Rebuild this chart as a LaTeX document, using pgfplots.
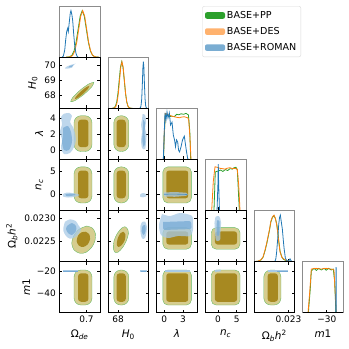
\documentclass[border=0pt]{standalone}
\usepackage{fontspec}
\setmainfont{DejaVu Sans}[ItalicFont={DejaVu Sans Oblique}]
\usepackage{pgfplots}
\pgfplotsset{compat=1.18}

\definecolor{cg}{HTML}{2CA02C}
\definecolor{co}{HTML}{FF7F0E}
\definecolor{cb}{HTML}{1F77B4}
\definecolor{khaki}{RGB}{214,205,143}
\definecolor{olive}{RGB}{167,137,33}
\definecolor{lblue}{RGB}{168,202,230}
\definecolor{mblue}{RGB}{118,170,213}
\definecolor{legg}{RGB}{44,160,44}
\definecolor{lego}{RGB}{255,178,110}
\definecolor{legb}{RGB}{122,173,210}

\pgfplotsset{
  panel/.style={scale only axis, width=40.7bp, height=51.12bp, anchor=north west,
    axis line style={black, line width=0.7pt}, tick style={black, line width=0.6pt},
    major tick length=3bp, tick align=inside, scaled ticks=false,
    xticklabel=\empty, yticklabel=\empty,
    ticklabel style={font=\fontsize{9}{10}\selectfont},
    label style={font=\fontsize{10.5}{12}\selectfont}},
  diag/.style={panel, ymin=0, ymax=1.1, ytick=\empty, xtick pos=left,
    axis line style={black!45, line width=0.7pt},
    extra description/.code={\draw[black, line width=0.7pt] (rel axis cs:0,0) -- (rel axis cs:1,0);}},
  pox/.style={xmin=0.66, xmax=0.72, xtick={0.7}},
  phx/.style={xmin=67.16, xmax=70.56, xtick={68}},
  phy/.style={ymin=67.16, ymax=70.56, ytick={68,69,70}},
  plx/.style={xmin=-1.2, xmax=5.3, xtick={0,3}},
  ply/.style={ymin=-1.2, ymax=5.3, ytick={0,2,4}},
  pnx/.style={xmin=-3.4, xmax=7.5, xtick={0,5}},
  pny/.style={ymin=-3.4, ymax=7.5, ytick={0,5}},
  pbx/.style={xmin=0.022075, xmax=0.023167, xtick={0.023}},
  pby/.style={ymin=0.022075, ymax=0.023167, ytick={0.0225,0.0230}},
  pmx/.style={xmin=-58.5, xmax=-10.5, xtick={-30}},
  pmy/.style={ymin=-58.5, ymax=-10.5, ytick={-40,-20}},
  c95/.style={fill=khaki, draw=cg!75, line width=0.35pt},
  c68/.style={fill=olive, draw=none},
  b95/.style={fill=lblue, draw=none, fill opacity=0.75},
  b68/.style={fill=mblue, draw=none, fill opacity=0.75},
  lg/.style={cg, line width=0.8pt},
  lo/.style={co, line width=0.8pt},
  lb/.style={cb, line width=0.8pt},
}

\begin{document}
\begin{tikzpicture}
\useasboundingbox (0bp,0bp) rectangle (349bp,-349bp);

% ---------- legend ----------
\begin{axis}[at={(202.3bp,-6bp)}, anchor=north west, hide axis, scale only axis,
  width=99bp, height=43bp, xmin=0, xmax=1, ymin=0, ymax=1,
  legend cell align=left,
  legend style={at={(0,1)}, anchor=north west, draw=black!15, fill=white,
    rounded corners=2bp, font=\fontsize{9.6}{10.5}\selectfont,
    inner xsep=2.5bp, inner ysep=3bp, row sep=3.5bp},
  legend image code/.code={\fill[#1, draw=none] (0bp,-3.3bp) rectangle (20bp,3.3bp);}]
\addlegendimage{fill=legg, draw=none}
\addlegendentry{BASE+PP}
\addlegendimage{fill=lego, draw=none}
\addlegendentry{BASE+DES}
\addlegendimage{fill=legb, draw=none}
\addlegendentry{BASE+ROMAN}
\end{axis}

% ---------- row 1 ----------
\begin{axis}[diag, pox, at={(59.3bp,-6bp)}]
\addplot[lg] coordinates {(0.6700,0) (0.6728,0.002) (0.6758,0.011) (0.6788,0.044) (0.6818,0.135) (0.6848,0.325) (0.6878,0.607) (0.6908,0.883) (0.6938,1.0) (0.6968,0.883) (0.6998,0.607) (0.7028,0.325) (0.7058,0.135) (0.7088,0.044) (0.7118,0.011) (0.7148,0.002) (0.7180,0)};
\addplot[lo] coordinates {(0.6710,0) (0.6742,0.002) (0.6771,0.011) (0.6800,0.044) (0.6829,0.135) (0.6858,0.325) (0.6887,0.607) (0.6916,0.883) (0.6945,1.0) (0.6974,0.883) (0.7003,0.607) (0.7032,0.325) (0.7061,0.135) (0.7090,0.044) (0.7119,0.011) (0.7148,0.002) (0.7180,0)};
\addplot[lb] coordinates {(0.6640,0) (0.6659,0.02) (0.6680,0.15) (0.6694,0.37) (0.6709,0.55) (0.6724,0.62) (0.6733,0.55) (0.6747,0.75) (0.6762,0.95) (0.6772,1.0) (0.6787,0.9) (0.6798,0.78) (0.6812,0.5) (0.6827,0.25) (0.6846,0.08) (0.6865,0.01) (0.6880,0)};
\end{axis}

% ---------- row 2 ----------
\begin{axis}[panel, pox, phy, at={(59.3bp,-57.12bp)}, yticklabels={68,69,70},
  ylabel={\textit{H}\textsubscript{0}}]
\addplot[c95, smooth] coordinates {(0.7111,68.885) (0.7080,68.595) (0.6966,68.097) (0.6837,67.683) (0.6768,67.595) (0.6800,67.885) (0.6913,68.383) (0.7042,68.797) (0.7111,68.885)};
\addplot[c68, smooth] coordinates {(0.7042,68.640) (0.7023,68.457) (0.6953,68.128) (0.6873,67.845) (0.6831,67.774) (0.6851,67.957) (0.6921,68.286) (0.7000,68.569) (0.7042,68.640)};
\addplot[b95, smooth] coordinates {(0.6829,70.102) (0.6805,69.993) (0.6789,69.864) (0.6718,69.790) (0.6684,69.816) (0.6708,69.926) (0.6775,70.055) (0.6846,70.128) (0.6829,70.102)};
\addplot[b68, smooth] coordinates {(0.6806,70.031) (0.6794,69.976) (0.6786,69.912) (0.6750,69.875) (0.6733,69.888) (0.6745,69.943) (0.6779,70.007) (0.6814,70.044) (0.6806,70.031)};
\end{axis}
\begin{axis}[diag, phx, at={(107.96bp,-57.12bp)}]
\addplot[lg] coordinates {(67.50,0) (67.575,0.002) (67.68,0.011) (67.785,0.044) (67.89,0.135) (67.995,0.325) (68.10,0.607) (68.205,0.883) (68.31,1.0) (68.415,0.883) (68.52,0.607) (68.625,0.325) (68.73,0.135) (68.835,0.044) (68.94,0.011) (69.045,0.002) (69.20,0)};
\addplot[lo] coordinates {(67.50,0) (67.63,0.002) (67.73,0.011) (67.83,0.044) (67.93,0.135) (68.03,0.325) (68.13,0.607) (68.23,0.883) (68.33,1.0) (68.43,0.883) (68.53,0.607) (68.63,0.325) (68.73,0.135) (68.83,0.044) (68.93,0.011) (69.03,0.002) (69.20,0)};
\addplot[lb] coordinates {(69.80,0) (69.87,0.01) (69.92,0.05) (69.98,0.2) (70.03,0.5) (70.08,0.88) (70.12,1.0) (70.16,0.88) (70.21,0.5) (70.26,0.2) (70.31,0.05) (70.36,0.01) (70.42,0)};
\end{axis}

% ---------- row 3 ----------
\begin{axis}[panel, pox, ply, at={(59.3bp,-108.24bp)}, yticklabels={0,2,4},
  ylabel={\textit{λ}}]
\addplot[c95, rounded corners=7bp] coordinates {(0.6950,-0.2) (0.7082,-0.2) (0.7082,4.35) (0.6817,4.35) (0.6817,-0.2) (0.6950,-0.2)};
\addplot[c68, rounded corners=3bp] coordinates {(0.6953,0.35) (0.7030,0.35) (0.7030,3.85) (0.6876,3.85) (0.6876,0.35) (0.6953,0.35)};
\addplot[b95, smooth] coordinates {(0.6669,4.60) (0.6743,4.70) (0.6787,4.312) (0.6758,3.549) (0.6802,2.913) (0.6831,2.150) (0.6846,1.260) (0.6817,0.370) (0.6758,-0.393) (0.6669,-0.520) (0.6625,0.243) (0.6640,1.260) (0.6610,2.278) (0.6640,3.295) (0.6625,4.185) (0.6669,4.60)};
\addplot[b68, smooth] coordinates {(0.6655,2.786) (0.6728,3.041) (0.6772,2.278) (0.6787,1.006) (0.6743,-0.011) (0.6669,-0.011) (0.6640,1.006) (0.6655,1.896) (0.6655,2.786)};
\end{axis}
\begin{axis}[panel, phx, ply, at={(107.96bp,-108.24bp)}]
\addplot[c95, rounded corners=7bp] coordinates {(68.275,-0.2) (68.90,-0.2) (68.90,4.35) (67.65,4.35) (67.65,-0.2) (68.275,-0.2)};
\addplot[c68, rounded corners=3bp] coordinates {(68.265,0.35) (68.65,0.35) (68.65,3.85) (67.88,3.85) (67.88,0.35) (68.265,0.35)};
\addplot[b95, smooth] coordinates {(70.050,4.566) (70.259,4.439) (70.343,3.549) (70.259,2.786) (70.385,1.896) (70.343,1.006) (70.259,0.116) (70.009,0.243) (69.925,1.260) (70.009,2.278) (69.925,3.168) (70.009,3.931) (70.050,4.566)};
\addplot[b68, smooth] coordinates {(70.10,3.8) (70.25,3.5) (70.22,2.0) (70.28,1.0) (70.15,0.4) (70.03,1.2) (70.08,2.5) (70.10,3.8)};
\end{axis}
\begin{axis}[diag, plx, at={(156.62bp,-108.24bp)}]
\addplot[lg] coordinates {(-0.10,0) (0.02,0.5) (0.19,0.97) (0.5,0.95) (0.83,0.918) (1.2,0.93) (1.63,0.918) (2.0,0.97) (2.35,0.96) (2.7,0.98) (3.1,0.97) (3.5,0.99) (3.88,0.956) (4.1,0.6) (4.24,0)};
\addplot[lo] coordinates {(-0.12,0) (0.0,0.5) (0.19,0.99) (0.5,0.97) (0.83,0.956) (1.2,0.93) (1.63,0.918) (2.0,0.905) (2.43,0.896) (2.8,0.91) (3.22,0.918) (3.5,0.905) (3.77,0.896) (3.93,0.847) (4.13,0.453) (4.29,0)};
\addplot[lb] coordinates {(-0.13,0) (0.03,0.63) (0.14,1.0) (0.30,0.85) (0.46,1.02) (0.62,0.89) (0.83,1.0) (1.02,0.74) (1.26,0.80) (1.47,0.52) (1.66,0.42) (1.82,0.27) (1.98,0.42) (2.17,0.37) (2.30,0.20) (2.46,0.16) (2.70,0.27) (2.94,0.42) (3.22,0.50) (3.42,0.31) (3.58,0.16) (3.77,0.01) (3.90,0)};
\end{axis}

% ---------- row 4 ----------
\begin{axis}[panel, pox, pny, at={(59.3bp,-159.36bp)}, yticklabels={0,5},
  ylabel={\textit{n}\textsubscript{\itshape c}}]
\addplot[c95, rounded corners=7bp] coordinates {(0.6950,-1.8) (0.7082,-1.8) (0.7082,5.9) (0.6817,5.9) (0.6817,-1.8) (0.6950,-1.8)};
\addplot[c68, rounded corners=3bp] coordinates {(0.6953,-0.8) (0.7030,-0.8) (0.7030,5.1) (0.6876,5.1) (0.6876,-0.8) (0.6953,-0.8)};
\addplot[b95, smooth] coordinates {(0.6655,0.112) (0.6713,0.432) (0.6787,0.325) (0.6876,0.112) (0.6890,-0.208) (0.6817,-0.528) (0.6728,-0.634) (0.6655,-0.421) (0.6655,0.112)};
\addplot[b68, smooth] coordinates {(0.6690,0.05) (0.6760,0.2) (0.6840,0.0) (0.6780,-0.3) (0.6700,-0.3) (0.6690,0.05)};
\end{axis}
\begin{axis}[panel, phx, pny, at={(107.96bp,-159.36bp)}]
\addplot[c95, rounded corners=7bp] coordinates {(68.275,-1.8) (68.90,-1.8) (68.90,5.9) (67.65,5.9) (67.65,-1.8) (68.275,-1.8)};
\addplot[c68, rounded corners=3bp] coordinates {(68.265,-0.8) (68.65,-0.8) (68.65,5.1) (67.88,5.1) (67.88,-0.8) (68.265,-0.8)};
\addplot[b95, smooth] coordinates {(69.883,0.112) (70.092,0.325) (70.343,0.112) (70.385,-0.314) (70.092,-0.591) (69.842,-0.421) (69.883,0.112)};
\end{axis}
\begin{axis}[panel, plx, pny, at={(156.62bp,-159.36bp)}]
\addplot[c95, rounded corners=5bp] coordinates {(2.075,-1.8) (4.35,-1.8) (4.35,5.9) (-0.2,5.9) (-0.2,-1.8) (2.075,-1.8)};
\addplot[c68, rounded corners=2.5bp] coordinates {(2.1,-0.8) (3.85,-0.8) (3.85,5.1) (0.35,5.1) (0.35,-0.8) (2.1,-0.8)};
\addplot[b95, rounded corners=1.5bp] coordinates {(-0.098,0.432) (1.738,0.538) (3.734,0.368) (3.814,-0.208) (1.898,-0.485) (-0.098,-0.421) (-0.098,0.432)};
\addplot[cb!80, line width=0.6pt] coordinates {(-0.05,0.05) (1.5,0.1) (3.7,0.0)};
\end{axis}
\begin{axis}[diag, pnx, at={(205.28bp,-159.36bp)}]
\addplot[lg] coordinates {(-1.07,0) (-0.72,0.83) (0.09,0.85) (0.73,0.87) (1.3,0.84) (2.0,0.88) (2.6,0.86) (3.22,0.90) (3.9,0.89) (4.3,0.92) (4.83,0.93) (5.18,0.87) (5.72,0)};
\addplot[lo] coordinates {(-1.68,0) (-1.26,0.62) (-0.80,0.94) (-0.2,0.93) (0.54,0.907) (1.2,0.9) (1.88,0.89) (2.5,0.91) (3.22,0.92) (3.9,0.9) (4.56,0.907) (5.18,0.89) (5.55,0.55) (5.90,0)};
\addplot[lb] coordinates {(-0.25,0) (0.0,0.6) (0.08,1.0) (0.18,0.6) (0.4,0)};
\end{axis}

% ---------- row 5 ----------
\begin{axis}[panel, pox, pby, at={(59.3bp,-210.48bp)}, yticklabels={0.0225,0.0230},
  ylabel={Ω\textsubscript{\itshape b}\textit{h}\textsuperscript{2}}]
\addplot[c95, smooth] coordinates {(0.7004,0.022835) (0.7086,0.022793) (0.7131,0.022679) (0.7126,0.022521) (0.7078,0.022380) (0.6994,0.022273) (0.6905,0.022252) (0.6817,0.022323) (0.6783,0.022466) (0.6812,0.022622) (0.6890,0.022765) (0.7004,0.022835)};
\addplot[c68, smooth] coordinates {(0.6989,0.022713) (0.7042,0.022658) (0.7053,0.022551) (0.7019,0.022444) (0.6954,0.022387) (0.6890,0.022414) (0.6856,0.022515) (0.6880,0.022637) (0.6930,0.022701) (0.6989,0.022713)};
\addplot[b95, smooth] coordinates {(0.6684,0.022927) (0.6758,0.022978) (0.6842,0.022942) (0.6880,0.022857) (0.6920,0.022765) (0.6890,0.022679) (0.6831,0.022594) (0.6758,0.022564) (0.6699,0.022622) (0.6659,0.022735) (0.6669,0.022857) (0.6684,0.022927)};
\addplot[b68, smooth] coordinates {(0.6714,0.022835) (0.6787,0.022899) (0.6846,0.022835) (0.6846,0.022728) (0.6787,0.022643) (0.6728,0.022686) (0.6699,0.022771) (0.6714,0.022835)};
\end{axis}
\begin{axis}[panel, phx, pby, at={(107.96bp,-210.48bp)}]
\addplot[c95, smooth] coordinates {(68.589,0.022820) (68.814,0.022765) (68.864,0.022664) (68.697,0.022521) (68.396,0.022380) (68.029,0.022280) (67.753,0.022273) (67.611,0.022359) (67.670,0.022521) (67.945,0.022679) (68.313,0.022793) (68.589,0.022820)};
\addplot[c68, smooth] coordinates {(68.447,0.022713) (68.614,0.022658) (68.563,0.022536) (68.313,0.022429) (68.029,0.022387) (67.895,0.022444) (67.979,0.022573) (68.196,0.022679) (68.447,0.022713)};
\addplot[b95, smooth] coordinates {(70.009,0.022921) (70.259,0.022931) (70.401,0.022835) (70.385,0.022707) (70.259,0.022579) (70.009,0.022568) (69.883,0.022686) (69.867,0.022835) (70.009,0.022921)};
\addplot[b68, smooth] coordinates {(70.050,0.022835) (70.259,0.022857) (70.301,0.022728) (70.134,0.022643) (69.967,0.022728) (70.050,0.022835)};
\end{axis}
\begin{axis}[panel, plx, pby, at={(156.62bp,-210.48bp)}]
\addplot[c95, rounded corners=5bp] coordinates {(2.075,0.02234) (4.35,0.02234) (4.35,0.02280) (-0.2,0.02280) (-0.2,0.02234) (2.075,0.02234)};
\addplot[c68, rounded corners=2.5bp] coordinates {(2.1,0.02244) (3.85,0.02244) (3.85,0.02272) (0.35,0.02272) (0.35,0.02244) (2.1,0.02244)};
\addplot[b95, smooth] coordinates {(-0.338,0.023092) (0.940,0.023049) (2.531,0.023113) (4.134,0.023071) (4.600,0.023007) (4.600,0.022750) (4.134,0.022622) (2.212,0.022622) (0.620,0.022579) (-0.497,0.022643) (-0.817,0.022857) (-0.338,0.023092)};
\addplot[b68, rounded corners=2bp] coordinates {(-0.178,0.022921) (4.300,0.022942) (4.400,0.022771) (-0.178,0.022750) (-0.178,0.022921)};
\end{axis}
\begin{axis}[panel, pnx, pby, at={(205.28bp,-210.48bp)}]
\addplot[c95, rounded corners=5bp] coordinates {(2.05,0.02234) (5.9,0.02234) (5.9,0.02280) (-1.8,0.02280) (-1.8,0.02234) (2.05,0.02234)};
\addplot[c68, rounded corners=2.5bp] coordinates {(2.15,0.02244) (5.1,0.02244) (5.1,0.02272) (-0.8,0.02272) (-0.8,0.02244) (2.15,0.02244)};
\addplot[b95, smooth] coordinates {(-0.665,0.023028) (0.273,0.023049) (0.809,0.022921) (0.675,0.022707) (0.541,0.022536) (-0.531,0.022526) (-0.799,0.022707) (-0.933,0.022899) (-0.665,0.023028)};
\addplot[b68, smooth] coordinates {(-0.3,0.022950) (0.4,0.022940) (0.35,0.022650) (-0.35,0.022650) (-0.3,0.022950)};
\end{axis}
\begin{axis}[diag, pbx, at={(253.94bp,-210.48bp)}]
\addplot[lg] coordinates {(0.022100,0) (0.022190,0.01) (0.022270,0.04) (0.022322,0.10) (0.022375,0.24) (0.022420,0.39) (0.022463,0.56) (0.022500,0.71) (0.022528,0.85) (0.022571,0.95) (0.022612,0.99) (0.022650,0.93) (0.022688,0.80) (0.022716,0.63) (0.022742,0.44) (0.022777,0.22) (0.022823,0.10) (0.022866,0.05) (0.022940,0.02) (0.023020,0.01) (0.023080,0)};
\addplot[lo] coordinates {(0.022100,0) (0.022185,0.01) (0.022266,0.04) (0.022319,0.10) (0.022373,0.25) (0.022418,0.40) (0.022461,0.57) (0.022499,0.72) (0.022526,0.86) (0.022569,0.96) (0.022614,1.0) (0.022649,0.93) (0.022687,0.79) (0.022714,0.62) (0.022740,0.43) (0.022775,0.21) (0.022821,0.10) (0.022864,0.06) (0.022936,0.03) (0.023017,0.01) (0.023080,0)};
\addplot[lb] coordinates {(0.022633,0) (0.022660,0.05) (0.022681,0.18) (0.022714,0.5) (0.022740,0.8) (0.022762,0.95) (0.022783,1.0) (0.022810,0.85) (0.022837,0.7) (0.022864,0.45) (0.022883,0.29) (0.022917,0.08) (0.022955,0.02) (0.022990,0.01) (0.023017,0.03) (0.023044,0.06) (0.023070,0.02) (0.023097,0)};
\end{axis}

% ---------- row 6 ----------
\begin{axis}[panel, pox, pmy, at={(59.3bp,-261.6bp)}, yticklabels={−40,−20}, xticklabels={0.7},
  ylabel={\textit{m}1}, xlabel={Ω\textsubscript{\itshape de}}]
\addplot[c95, rounded corners=7bp] coordinates {(0.6950,-51.3) (0.7082,-51.3) (0.7082,-18.4) (0.6817,-18.4) (0.6817,-51.3) (0.6950,-51.3)};
\addplot[c68, rounded corners=3bp] coordinates {(0.6953,-48.2) (0.7030,-48.2) (0.7030,-21.5) (0.6876,-21.5) (0.6876,-48.2) (0.6953,-48.2)};
\addplot[lblue, line width=2pt] coordinates {(0.6655,-19.6) (0.6880,-19.6)};
\addplot[mblue, line width=0.7pt] coordinates {(0.6660,-19.6) (0.6870,-19.6)};
\end{axis}
\begin{axis}[panel, phx, pmy, at={(107.96bp,-261.6bp)}, xticklabels={68},
  xlabel={\textit{H}\textsubscript{0}}]
\addplot[c95, rounded corners=7bp] coordinates {(68.275,-51.3) (68.90,-51.3) (68.90,-18.4) (67.65,-18.4) (67.65,-51.3) (68.275,-51.3)};
\addplot[c68, rounded corners=3bp] coordinates {(68.265,-48.2) (68.65,-48.2) (68.65,-21.5) (67.88,-21.5) (67.88,-48.2) (68.265,-48.2)};
\addplot[lblue, line width=2pt] coordinates {(69.85,-19.6) (70.40,-19.6)};
\addplot[mblue, line width=0.7pt] coordinates {(69.90,-19.6) (70.35,-19.6)};
\end{axis}
\begin{axis}[panel, plx, pmy, at={(156.62bp,-261.6bp)}, xticklabels={0,3},
  xlabel={\textit{λ}}]
\addplot[c95, rounded corners=5bp] coordinates {(2.075,-51.3) (4.35,-51.3) (4.35,-18.4) (-0.2,-18.4) (-0.2,-51.3) (2.075,-51.3)};
\addplot[c68, rounded corners=2.5bp] coordinates {(2.1,-48.2) (3.85,-48.2) (3.85,-21.5) (0.35,-21.5) (0.35,-48.2) (2.1,-48.2)};
\addplot[lblue, line width=1.8pt] coordinates {(0.14,-19.0) (4.13,-19.0)};
\end{axis}
\begin{axis}[panel, pnx, pmy, at={(205.28bp,-261.6bp)}, xticklabels={0,5},
  xlabel={\textit{n}\textsubscript{\itshape c}}]
\addplot[c95, rounded corners=5bp] coordinates {(2.05,-51.3) (5.9,-51.3) (5.9,-18.4) (-1.8,-18.4) (-1.8,-51.3) (2.05,-51.3)};
\addplot[c68, rounded corners=2.5bp] coordinates {(2.15,-48.2) (5.1,-48.2) (5.1,-21.5) (-0.8,-21.5) (-0.8,-48.2) (2.15,-48.2)};
\addplot[lblue, line width=1.8pt] coordinates {(-0.8,-19.3) (0.74,-18.8)};
\end{axis}
\begin{axis}[panel, pbx, pmy, at={(253.94bp,-261.6bp)}, xticklabels={0.023},
  xlabel={Ω\textsubscript{\itshape b}\textit{h}\textsuperscript{2}}]
\addplot[c95, rounded corners=7bp] coordinates {(0.02257,-51.3) (0.02280,-51.3) (0.02280,-18.4) (0.02234,-18.4) (0.02234,-51.3) (0.02257,-51.3)};
\addplot[c68, rounded corners=3bp] coordinates {(0.02258,-48.2) (0.02272,-48.2) (0.02272,-21.5) (0.02244,-21.5) (0.02244,-48.2) (0.02258,-48.2)};
\addplot[lblue, line width=1.4pt] coordinates {(0.02246,-19.3) (0.02300,-19.3)};
\addplot[mblue, line width=0.8pt] coordinates {(0.02270,-19.3) (0.02300,-19.3)};
\end{axis}
\begin{axis}[diag, pmx, at={(302.6bp,-261.6bp)}, xticklabels={−30},
  xlabel={\textit{m}1}]
\addplot[lg] coordinates {(-51.7,0) (-49.5,0.5) (-48.2,0.90) (-45,0.955) (-42.3,0.91) (-39.5,0.955) (-36.4,0.92) (-33.2,0.955) (-30.6,0.915) (-27.8,0.955) (-24.7,0.92) (-22.3,0.94) (-20.7,0.67) (-19.2,0)};
\addplot[lo] coordinates {(-52.1,0) (-50.1,0.45) (-48.2,0.94) (-45.2,0.95) (-42.3,0.955) (-39.3,0.945) (-36.4,0.94) (-33.5,0.95) (-30.6,0.955) (-27.6,0.945) (-24.7,0.94) (-21.5,0.92) (-20.3,0.52) (-18.8,0)};
\addplot[lb] coordinates {(-19.4,0) (-19.0,0.98) (-18.7,0)};
\end{axis}
\end{tikzpicture}
\end{document}
